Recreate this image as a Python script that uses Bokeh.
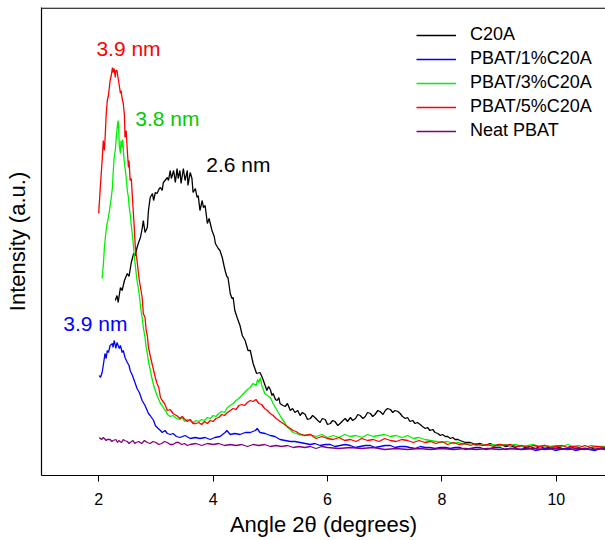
from bokeh.plotting import figure
from bokeh.models import Span, Legend, LegendItem, FixedTicker
from bokeh.core.properties import value
from bokeh.embed import file_html
from bokeh.resources import INLINE

# ---------------- data (angle 2theta in degrees, intensity in a.u.) ----------------
xticks = [2, 4, 6, 8, 10]

c20a = [
    (2.29,175),(2.32,180),(2.34,173),(2.38,188),(2.41,185),(2.45,195),(2.50,202),(2.53,199),(2.57,213),(2.61,222),
    (2.64,220),(2.67,228),(2.71,235),(2.73,238),(2.76,247),(2.78,255),(2.81,243),(2.85,248),(2.87,265),(2.90,278),
    (2.94,282),(2.96,275),(2.99,283),(3.02,282),(3.06,287),(3.08,288),(3.11,285),(3.13,293),(3.16,295),(3.20,298),
    (3.22,295),(3.25,305),(3.27,297),(3.31,305),(3.34,293),(3.37,307),(3.39,297),(3.42,305),(3.44,292),(3.48,307),
    (3.51,295),(3.55,305),(3.56,290),(3.60,303),(3.63,297),(3.65,283),(3.69,287),(3.72,278),(3.74,280),(3.77,265),
    (3.81,275),(3.83,268),(3.86,270),(3.90,252),(3.93,257),(3.98,245),(4.02,239),(4.04,232),(4.09,227),(4.12,225),
    (4.16,218),(4.19,210),(4.21,205),(4.24,199),(4.26,198),(4.30,182),(4.33,177),(4.35,178),(4.38,165),(4.42,158),
    (4.47,150),(4.51,140),(4.56,135),(4.61,125),(4.65,125),(4.70,112),(4.76,102),(4.82,103),(4.86,98),(4.91,90),
    (4.94,85),(4.97,89),(5.00,86),(5.03,80),(5.05,82),(5.09,76),(5.12,75),(5.15,78),(5.17,72),(5.22,70),
    (5.26,69),(5.30,72),(5.35,65),(5.39,67),(5.43,63),(5.48,65),(5.52,60),(5.56,63),(5.61,61),(5.65,56),
    (5.70,57),(5.74,60),(5.78,58),(5.83,55),(5.87,53),(5.91,57),(5.96,56),(6.00,51),(6.05,52),(6.09,55),
    (6.13,54),(6.18,50),(6.22,52),(6.27,55),(6.31,57),(6.35,54),(6.40,58),(6.44,55),(6.49,57),(6.53,61),
    (6.57,60),(6.62,57),(6.66,59),(6.70,63),(6.75,62),(6.79,59),(6.83,61),(6.88,65),(6.92,64),(6.97,61),
    (7.01,65),(7.05,67),(7.10,66),(7.14,63),(7.18,65),(7.23,64),(7.27,62),(7.31,59),(7.36,57),(7.40,58),
    (7.44,54),(7.49,55),(7.53,52),(7.57,53),(7.62,51),(7.66,49),(7.71,47),(7.75,48),(7.79,45),(7.84,46),
    (7.88,43),(7.93,42),(7.97,40),(8.01,41),(8.06,39),(8.10,39),(8.15,37),(8.19,38),(8.23,36),(8.28,36),
    (8.32,35),(8.41,33),(8.50,33),(8.59,31),(8.67,32),(8.76,30),(8.84,32),(8.93,30),(9.02,31),(9.11,29),
    (9.19,30),(9.28,28),(9.37,30),(9.45,28),(9.54,29),(9.63,27),(9.72,29),(9.80,27),(9.89,28),(9.98,27),
    (10.06,28),(10.15,26),(10.24,29),(10.33,27),(10.41,27),(10.50,26),(10.59,28),(10.68,26),(10.77,27),(10.85,28)]

pbat_1 = [
    (2.01,100),(2.03,98),(2.06,103),(2.08,110),(2.11,122),(2.13,117),(2.15,125),(2.17,123),(2.20,130),(2.24,132),
    (2.25,128),(2.27,135),(2.29,130),(2.30,127),(2.32,133),(2.36,127),(2.38,130),(2.41,123),(2.43,125),(2.46,118),
    (2.50,113),(2.53,110),(2.55,105),(2.59,100),(2.64,92),(2.67,87),(2.71,83),(2.76,75),(2.81,70),(2.87,62),
    (2.90,60),(2.96,55),(2.99,50),(3.04,47),(3.08,45),(3.11,43),(3.16,45),(3.20,42),(3.25,41),(3.30,42),
    (3.36,39),(3.42,38),(3.51,40),(3.60,37),(3.69,38),(3.77,37),(3.86,38),(3.95,36),(4.03,38),(4.12,39),
    (4.21,43),(4.24,45),(4.30,41),(4.38,42),(4.47,41),(4.56,43),(4.65,43),(4.74,45),(4.77,47),(4.82,43),
    (4.91,42),(5.00,40),(5.08,39),(5.17,36),(5.26,35),(5.35,34),(5.43,34),(5.52,33),(5.61,32),(5.70,31),
    (5.78,32),(5.87,30),(5.96,31),(6.05,31),(6.13,29),(6.22,30),(6.31,31),(6.40,30),(6.49,28),(6.57,29),
    (6.66,30),(6.75,30),(6.83,28),(6.92,29),(7.01,30),(7.10,30),(7.18,28),(7.27,29),(7.36,29),(7.44,28),
    (7.53,27),(7.62,29),(7.71,28),(7.79,28),(7.88,27),(7.97,28),(8.06,28),(8.15,27),(8.23,28),(8.32,28),
    (8.41,26),(8.50,27),(8.59,28),(8.67,28),(8.76,26),(8.84,27),(8.93,28),(9.02,28),(9.11,26),(9.19,27),
    (9.28,27),(9.37,26),(9.45,27),(9.54,27),(9.63,25),(9.72,26),(9.80,27),(9.89,27),(9.98,25),(10.06,26),
    (10.15,27),(10.24,27),(10.33,25),(10.41,26),(10.50,27),(10.59,26),(10.68,25),(10.77,27),(10.85,26)]

pbat_3 = [
    (2.06,197),(2.08,210),(2.10,228),(2.12,240),(2.14,250),(2.16,255),(2.18,262),(2.20,270),(2.22,278),(2.24,288),
    (2.25,300),(2.27,318),(2.29,325),(2.31,340),(2.33,352),(2.34,355),(2.35,345),(2.36,330),(2.38,322),(2.39,335),
    (2.41,328),(2.42,336),(2.44,318),(2.46,308),(2.48,298),(2.50,285),(2.52,278),(2.53,270),(2.55,262),(2.57,250),
    (2.59,240),(2.61,228),(2.63,215),(2.65,205),(2.67,195),(2.70,185),(2.72,175),(2.74,165),(2.76,158),(2.78,148),
    (2.81,138),(2.83,128),(2.85,122),(2.87,114),(2.90,106),(2.92,100),(2.94,95),(2.97,88),(2.99,85),(3.02,80),
    (3.05,76),(3.08,72),(3.11,70),(3.15,66),(3.18,64),(3.20,61),(3.25,59),(3.30,60),(3.36,57),(3.42,56),
    (3.46,58),(3.50,54),(3.55,56),(3.60,55),(3.65,53),(3.70,55),(3.75,54),(3.80,56),(3.85,55),(3.90,58),
    (3.95,57),(4.00,60),(4.05,59),(4.10,62),(4.15,64),(4.20,63),(4.25,68),(4.30,70),(4.35,72),(4.40,75),
    (4.45,77),(4.50,80),(4.55,83),(4.60,86),(4.65,88),(4.70,92),(4.75,90),(4.78,96),(4.80,93),(4.83,98),
    (4.85,90),(4.88,86),(4.90,82),(4.95,80),(5.00,78),(5.05,72),(5.10,67),(5.15,62),(5.20,57),(5.25,53),
    (5.30,48),(5.35,46),(5.40,43),(5.45,42),(5.50,41),(5.60,40),(5.70,41),(5.80,39),(5.90,41),(6.00,38),
    (6.10,40),(6.20,38),(6.30,41),(6.40,39),(6.50,40),(6.60,38),(6.70,41),(6.80,39),(6.90,40),(7.00,41),
    (7.10,39),(7.20,40),(7.30,38),(7.40,40),(7.50,37),(7.60,38),(7.70,36),(7.80,35),(7.90,34),(8.00,33),
    (8.10,34),(8.20,32),(8.30,33),(8.40,31),(8.50,32),(8.60,30),(8.70,31),(8.80,30),(8.90,31),(9.00,29),
    (9.10,31),(9.20,30),(9.30,31),(9.40,29),(9.50,30),(9.60,31),(9.70,29),(9.80,30),(9.90,29),(10.00,30),
    (10.10,29),(10.20,31),(10.30,29),(10.40,30),(10.50,28),(10.60,30),(10.70,29),(10.85,29)]

pbat_5 = [
    (2.00,262),(2.03,290),(2.06,315),(2.08,335),(2.10,325),(2.11,335),(2.13,360),(2.15,375),(2.17,380),(2.20,395),
    (2.22,400),(2.24,408),(2.25,403),(2.27,407),(2.29,398),(2.30,405),(2.32,405),(2.34,397),(2.36,390),(2.38,382),
    (2.39,385),(2.41,377),(2.43,372),(2.45,360),(2.46,338),(2.48,345),(2.50,325),(2.52,308),(2.53,315),(2.55,295),
    (2.57,297),(2.60,268),(2.62,250),(2.64,228),(2.67,215),(2.69,205),(2.71,195),(2.74,185),(2.76,178),(2.78,162),
    (2.81,158),(2.83,145),(2.85,140),(2.87,128),(2.90,120),(2.92,115),(2.94,110),(2.97,103),(2.99,98),(3.02,92),
    (3.05,88),(3.08,78),(3.11,75),(3.15,72),(3.18,68),(3.20,65),(3.25,66),(3.30,62),(3.36,60),(3.42,57),
    (3.46,59),(3.49,57),(3.55,54),(3.60,56),(3.65,52),(3.70,52),(3.75,53),(3.80,51),(3.85,54),(3.90,52),
    (3.95,55),(4.00,54),(4.05,57),(4.10,58),(4.15,61),(4.20,60),(4.25,63),(4.30,65),(4.35,67),(4.40,66),
    (4.45,70),(4.50,71),(4.55,70),(4.60,73),(4.65,75),(4.70,74),(4.75,76),(4.80,72),(4.85,71),(4.90,67),
    (4.95,65),(5.00,62),(5.05,60),(5.10,57),(5.15,55),(5.20,53),(5.25,51),(5.30,49),(5.35,47),(5.40,45),
    (5.45,44),(5.50,42),(5.60,40),(5.70,41),(5.80,37),(5.90,39),(6.00,37),(6.10,36),(6.20,38),(6.30,35),
    (6.40,36),(6.50,34),(6.60,37),(6.70,35),(6.80,36),(6.90,34),(7.00,37),(7.10,35),(7.20,34),(7.30,36),
    (7.40,35),(7.50,33),(7.60,35),(7.70,33),(7.80,34),(7.90,32),(8.00,34),(8.10,31),(8.20,33),(8.30,31),
    (8.40,32),(8.50,30),(8.60,32),(8.70,30),(8.80,31),(8.90,29),(9.00,31),(9.10,30),(9.20,31),(9.30,29),
    (9.40,30),(9.50,28),(9.60,30),(9.70,29),(9.80,30),(9.90,28),(10.00,29),(10.10,30),(10.20,28),(10.30,29),
    (10.40,28),(10.50,30),(10.60,28),(10.70,29),(10.85,28)]

neat_pbat = [
    (2.01,38),(2.05,36),(2.08,38),(2.10,37),(2.13,35),(2.15,36),(2.20,36),(2.23,34),(2.25,35),(2.30,36),
    (2.33,33),(2.35,35),(2.40,33),(2.43,36),(2.45,35),(2.50,34),(2.53,32),(2.55,33),(2.60,35),(2.63,32),
    (2.65,33),(2.70,34),(2.75,32),(2.80,35),(2.85,33),(2.90,32),(2.95,34),(3.00,33),(3.05,31),(3.10,32),
    (3.15,34),(3.20,33),(3.25,31),(3.30,31),(3.35,33),(3.40,33),(3.45,31),(3.50,32),(3.55,30),(3.60,31),
    (3.70,32),(3.80,30),(3.90,32),(4.00,31),(4.10,32),(4.20,30),(4.30,31),(4.40,30),(4.50,31),(4.60,29),
    (4.70,31),(4.80,30),(4.90,31),(5.00,29),(5.10,30),(5.20,29),(5.30,30),(5.40,28),(5.50,29),(5.60,28),
    (5.70,29),(5.80,27),(5.90,29),(6.00,28),(6.20,27),(6.40,28),(6.60,27),(6.80,28),(7.00,26),(7.20,27),
    (7.40,26),(7.60,27),(7.80,26),(8.00,27),(8.20,26),(8.40,27),(8.60,26),(8.80,27),(9.00,26),(9.20,27),
    (9.40,26),(9.60,27),(9.80,26),(10.00,27),(10.20,26),(10.40,27),(10.60,26),(10.85,27)]

series_names = ["C20A", "PBAT/1%C20A", "PBAT/3%C20A", "PBAT/5%C20A", "Neat PBAT"]
series_data = [c20a, pbat_1, pbat_3, pbat_5, neat_pbat]
series_colors = ["#000000", "#0000ff", "#00f000", "#ff0000", "#800080"]

# peak annotations: label, x (deg), y (a.u.), colour
ann_text = ["3.9 nm", "3.8 nm", "2.6 nm", "3.9 nm"]
ann_x = [1.96, 2.64, 3.88, 1.38]
ann_y = [427, 357, 311, 152]
ann_color = ["#ff0000", "#00cc00", "#000000", "#0000ff"]

FONT = "Liberation Sans"

p = figure(width=605, height=540, output_backend="svg", toolbar_location=None,
           x_range=(1.0, 10.86), y_range=(0, 468),
           min_border_left=41, min_border_right=0, min_border_top=7, min_border_bottom=65)
p.outline_line_color = None
p.grid.visible = False
p.background_fill_color = "white"

items = []
for name, data, col in zip(series_names, series_data, series_colors):
    xs = [d[0] for d in data]
    ys = [d[1] for d in data]
    r = p.line(xs, ys, line_color=col, line_width=1.3)
    items.append(LegendItem(label=name, renderers=[r]))

# top frame line
p.add_layout(Span(location=467.4, dimension="width", line_color="black", line_width=1.2))

p.text(x=ann_x, y=ann_y, text=ann_text, text_color=ann_color,
       text_font=value(FONT), text_font_size=value("21px"),
       text_align="left", text_baseline="middle")

# axes
xa = p.xaxis[0]
xa.ticker = FixedTicker(ticks=xticks)
xa.axis_label = "Angle 2θ (degrees)"
xa.axis_label_text_font = FONT
xa.axis_label_text_font_size = "22px"
xa.axis_label_text_font_style = "normal"
xa.axis_label_text_color = "black"
xa.axis_label_standoff = 4
xa.major_label_text_font = FONT
xa.major_label_text_font_size = "16px"
xa.major_label_text_color = "black"
xa.major_label_standoff = 11
xa.major_tick_in = 0
xa.major_tick_out = 6
xa.minor_tick_in = 0
xa.minor_tick_out = 0
xa.axis_line_width = 1.2

ya = p.yaxis[0]
ya.ticker = FixedTicker(ticks=[])
ya.axis_label = "Intensity (a.u.)"
ya.axis_label_text_font = FONT
ya.axis_label_text_font_size = "22px"
ya.axis_label_text_font_style = "normal"
ya.axis_label_text_color = "black"
ya.axis_label_standoff = 12
ya.major_label_standoff = 0
ya.major_tick_in = 0
ya.major_tick_out = 0
ya.minor_tick_in = 0
ya.minor_tick_out = 0
ya.axis_line_width = 1.2

legend = Legend(items=items, location=(375, 334))
legend.border_line_color = None
legend.background_fill_alpha = 0
legend.padding = 0
legend.margin = 0
legend.spacing = 3
legend.glyph_width = 40
legend.glyph_height = 20
legend.label_height = 20
legend.label_standoff = 14
legend.label_text_font = FONT
legend.label_text_font_size = "18px"
legend.label_text_color = "black"
p.add_layout(legend)

open("out.html", "w").write(file_html(p, INLINE))
